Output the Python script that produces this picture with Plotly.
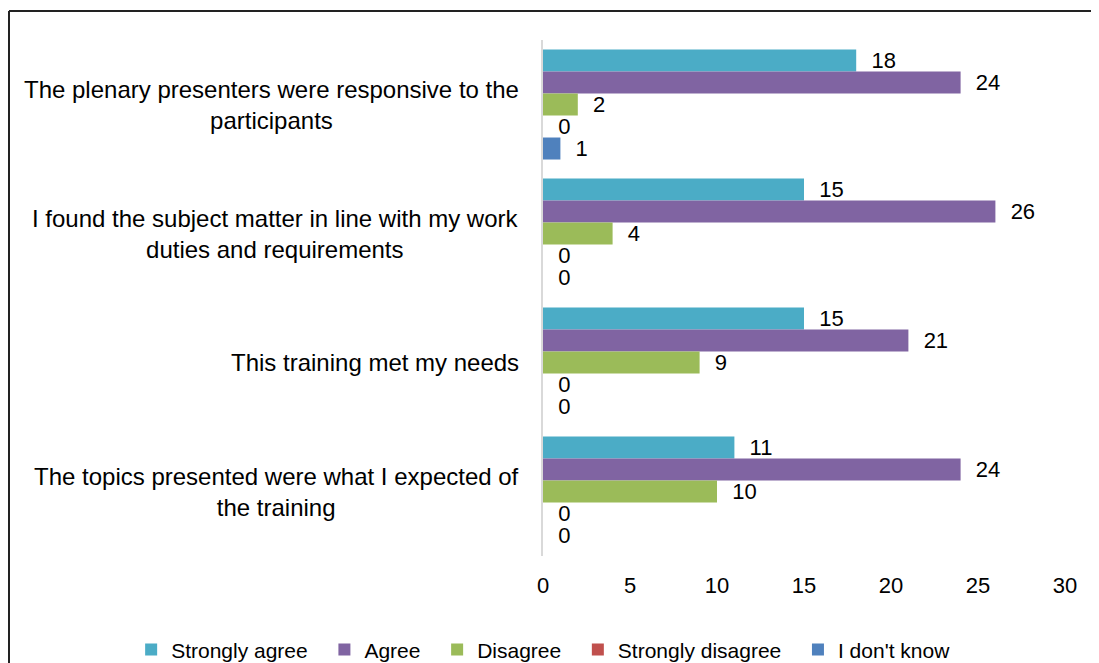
import plotly.graph_objects as go

# Survey statements, listed top to bottom as they appear
statements = [
    "The plenary presenters were responsive to the<br>participants",
    "I found the subject matter in line with my work<br>duties and requirements",
    "This training met my needs",
    "The topics presented were what I expected of<br>the training",
]

strongly_agree = [18, 15, 15, 11]
agree = [24, 26, 21, 24]
disagree = [2, 4, 9, 10]
strongly_disagree = [0, 0, 0, 0]
dont_know = [1, 0, 0, 0]

series = [
    ("Strongly agree", strongly_agree, "#4BACC6"),
    ("Agree", agree, "#8064A2"),
    ("Disagree", disagree, "#9BBB59"),
    ("Strongly disagree", strongly_disagree, "#C0504D"),
    ("I don't know", dont_know, "#4F81BD"),
]

font_family = "Arial, Liberation Sans, sans-serif"

fig = go.Figure()

for name, values, color in series:
    fig.add_trace(go.Bar(
        y=statements,
        x=values,
        name=name + "\u00a0\u00a0",  # a little extra room between legend entries
        orientation="h",
        marker=dict(color=color, line=dict(width=0)),
        text=values,
        texttemplate="  %{x}",
        textposition="outside",
        textfont=dict(size=22, color="black", family=font_family),
        constraintext="none",
        cliponaxis=False,
    ))

# category labels, centred like the original chart
for s in statements:
    fig.add_annotation(
        x=0, y=s, xref="x", yref="y",
        text=s, showarrow=False,
        xanchor="right", yanchor="middle", align="center",
        xshift=-22,
        font=dict(size=24, color="black", family=font_family),
    )

# outer frame (top and left edges visible in the crop)
fig.add_shape(type="line", xref="paper", yref="paper",
              x0=-1.023, x1=1.2, y0=1.056, y1=1.056,
              line=dict(color="#222222", width=2))
fig.add_shape(type="line", xref="paper", yref="paper",
              x0=-1.023, x1=-1.023, y0=1.056, y1=-0.3,
              line=dict(color="#222222", width=2))

fig.update_layout(
    barmode="group",
    bargap=0.147,
    bargroupgap=0,
    width=1091,
    height=655,
    margin=dict(l=535, r=34, t=32, b=107, autoexpand=False),
    plot_bgcolor="white",
    paper_bgcolor="white",
    font=dict(family=font_family, color="black"),
    xaxis=dict(
        range=[0, 30],
        dtick=5,
        showgrid=False,
        zeroline=False,
        showline=False,
        ticks="",
        ticklabelstandoff=14,
        tickfont=dict(size=22, color="black"),
        fixedrange=True,
    ),
    yaxis=dict(
        autorange="reversed",
        showticklabels=False,
        showgrid=False,
        zeroline=False,
        showline=True,
        linecolor="#D9D9D9",
        linewidth=2,
        ticks="",
        fixedrange=True,
    ),
    legend=dict(
        orientation="h",
        x=-0.789, xanchor="left",
        y=-0.182, yanchor="middle",
        font=dict(size=21, color="black"),
        itemwidth=30,
        traceorder="normal",
    ),
    showlegend=True,
)

fig.write_html("out.html")
